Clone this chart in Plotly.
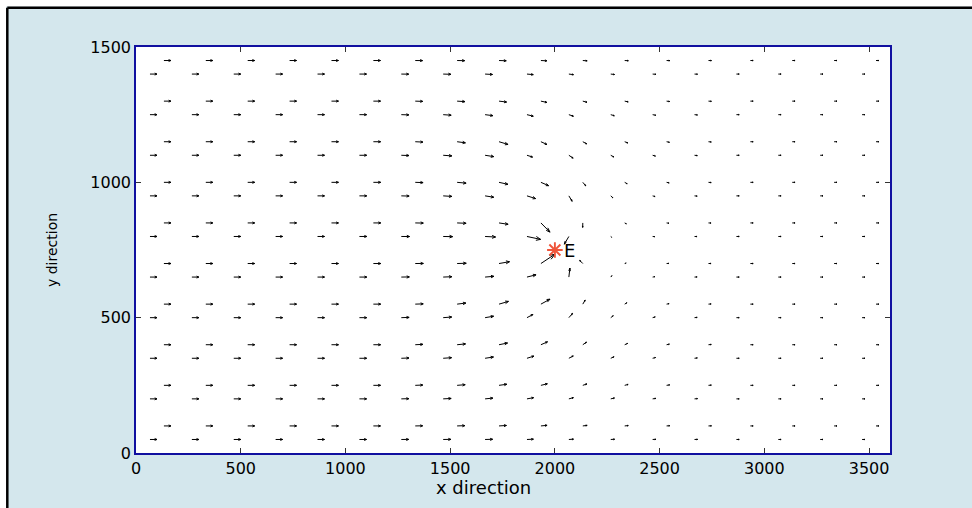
import plotly.graph_objects as go

# ---------------- data ----------------
x_a = [66.7, 266.7, 466.7, 666.7, 866.7, 1066.7, 1266.7, 1466.7, 1666.7, 1866.7,
       2066.7, 2266.7, 2466.7, 2666.7, 2866.7, 3066.7, 3266.7, 3466.7]
x_b = [133.3, 333.3, 533.3, 733.3, 933.3, 1133.3, 1333.3, 1533.3, 1733.3, 1933.3,
       2133.3, 2333.3, 2533.3, 2733.3, 2933.3, 3133.3, 3333.3, 3533.3]
row_y = [50, 100, 200, 250, 350, 400, 500, 550, 650, 700,
         800, 850, 950, 1000, 1100, 1150, 1250, 1300, 1400, 1450]
row_kind = ["a", "b"] * 10

L = [1.0] * 5
R = [0.4] * 4
Z5 = [0] * 5
Z4 = [0] * 4
u_rows = [
    L + [1.02, 1.06, 1.10, 1.08, 0.92, 0.66, 0.55, 0.47, 0.44] + R,
    L + [1.02, 1.06, 1.10, 1.06, 0.88, 0.62, 0.51, 0.45, 0.43] + R,
    L + [1.03, 1.08, 1.14, 1.12, 0.95, 0.65, 0.53, 0.46, 0.43] + R,
    L + [1.03, 1.08, 1.15, 1.12, 0.92, 0.59, 0.49, 0.44, 0.41] + R,
    L + [1.04, 1.10, 1.20, 1.20, 1.00, 0.63, 0.47, 0.42, 0.40] + R,
    L + [1.04, 1.10, 1.20, 1.22, 0.95, 0.53, 0.42, 0.40, 0.40] + R,
    L + [1.05, 1.12, 1.22, 1.22, 0.85, 0.54, 0.36, 0.37, 0.38] + R,
    L + [1.05, 1.14, 1.25, 1.35, 1.30, 0.34, 0.31, 0.36, 0.38] + R,
    L + [1.06, 1.15, 1.24, 1.26, 1.30, 0.15, 0.17, 0.31, 0.37] + R,
    L + [1.06, 1.16, 1.30, 1.50, 2.00, -0.45, 0.21, 0.33, 0.37] + R,
    L + [1.06, 1.18, 1.35, 1.50, 1.95, -0.65, 0.13, 0.30, 0.36] + R,
    L + [1.06, 1.15, 1.28, 1.30, 1.30, -0.02, 0.24, 0.34, 0.37] + R,
    L + [1.05, 1.12, 1.24, 1.24, 1.24, 0.47, 0.30, 0.35, 0.38] + R,
    L + [1.05, 1.12, 1.28, 1.28, 1.10, 0.43, 0.35, 0.37, 0.39] + R,
    L + [1.04, 1.10, 1.24, 1.24, 0.80, 0.61, 0.44, 0.40, 0.40] + R,
    L + [1.04, 1.10, 1.18, 1.29, 0.86, 0.56, 0.45, 0.41, 0.40] + R,
    L + [1.03, 1.08, 1.14, 1.12, 0.90, 0.65, 0.51, 0.45, 0.42] + R,
    L + [1.03, 1.07, 1.12, 1.08, 0.85, 0.60, 0.50, 0.44, 0.42] + R,
    L + [1.02, 1.06, 1.10, 1.06, 0.90, 0.66, 0.54, 0.47, 0.43] + R,
    L + [1.02, 1.05, 1.08, 1.03, 0.85, 0.62, 0.52, 0.46, 0.43] + R,
]
v_rows = [
    Z5 + [0, 0.006, 0.011, 0.02, 0.03, 0.031, 0.023, 0.014, 0.008] + Z4,
    Z5 + [0, 0.015, 0.03, 0.05, 0.065, 0.059, 0.04, 0.022, 0.011] + Z4,
    Z5 + [0, 0.021, 0.045, 0.085, 0.13, 0.131, 0.094, 0.052, 0.027] + Z4,
    Z5 + [0, 0.032, 0.07, 0.12, 0.17, 0.157, 0.098, 0.05, 0.024] + Z4,
    Z5 + [0, 0.03, 0.065, 0.14, 0.24, 0.261, 0.166, 0.081, 0.037] + Z4,
    Z5 + [0, 0.04, 0.09, 0.19, 0.32, 0.283, 0.146, 0.065, 0.028] + Z4,
    Z5 + [0, 0.03, 0.07, 0.16, 0.35, 0.482, 0.218, 0.084, 0.032] + Z4,
    Z5 + [0, 0.03, 0.12, 0.30, 0.55, 0.454, 0.151, 0.055, 0.021] + Z4,
    Z5 + [0, 0.015, 0.04, 0.08, 0.25, 1.00, 0.157, 0.045, 0.015] + Z4,
    Z5 + [0, 0.01, 0.03, 0.20, 1.03, 0.35, 0.054, 0.017, 0.006] + Z4,
    Z5 + [0, -0.006, -0.02, -0.06, -0.32, -0.85, -0.087, -0.024, -0.008] + Z4,
    Z5 + [0, -0.015, -0.04, -0.15, -1.02, -0.495, -0.099, -0.032, -0.011] + Z4,
    Z5 + [0, -0.02, -0.06, -0.15, -0.30, -0.602, -0.218, -0.076, -0.027] + Z4,
    Z5 + [0, -0.03, -0.09, -0.22, -0.37, -0.394, -0.158, -0.062, -0.024] + Z4,
    Z5 + [0, -0.03, -0.07, -0.15, -0.20, -0.319, -0.188, -0.085, -0.037] + Z4,
    Z5 + [0, -0.04, -0.12, -0.30, -0.30, -0.236, -0.133, -0.062, -0.028] + Z4,
    Z5 + [0, -0.025, -0.06, -0.11, -0.17, -0.169, -0.119, -0.063, -0.032] + Z4,
    Z5 + [0, -0.027, -0.055, -0.10, -0.14, -0.122, -0.079, -0.041, -0.021] + Z4,
    Z5 + [0, -0.011, -0.025, -0.045, -0.06, -0.063, -0.047, -0.027, -0.015] + Z4,
    Z5 + [0, -0.008, -0.015, -0.025, -0.03, -0.029, -0.02, -0.011, -0.006] + Z4,
]

well_x = [2000]
well_y = [750]
well_label = ["E"]

x_ticks = [0, 500, 1000, 1500, 2000, 2500, 3000, 3500]
y_ticks = [0, 500, 1000, 1500]

# ---------------- figure ----------------
SCALE = 33.4      # quiver scale (data units per velocity unit)
ALPHA, BETA = 0.33, 0.33

qx, qy = [], []
for yv, kind, urow, vrow in zip(row_y, row_kind, u_rows, v_rows):
    xs = x_a if kind == "a" else x_b
    for xv, u, v in zip(xs, urow, vrow):
        uu, vv = u * SCALE, v * SCALE
        ex, ey = xv + uu, yv + vv
        qx += [xv, ex, None]
        qy += [yv, ey, None]
        qx += [ex - ALPHA * (uu + BETA * vv), ex, ex - ALPHA * (uu - BETA * vv), None]
        qy += [ey - ALPHA * (vv - BETA * uu), ey, ey - ALPHA * (vv + BETA * uu), None]

fig = go.Figure()
fig.add_trace(go.Scatter(x=qx, y=qy, mode="lines",
                         line=dict(color="black", width=1), hoverinfo="skip",
                         showlegend=False))
fig.add_trace(go.Scatter(x=well_x, y=well_y, mode="markers",
                         marker=dict(symbol="asterisk-open", size=13,
                                     line=dict(color="#ff0000", width=1.9)),
                         showlegend=False))
fig.add_annotation(x=well_x[0] + 35, y=well_y[0], text=well_label[0],
                   showarrow=False, xanchor="left", yanchor="middle",
                   font=dict(family="DejaVu Sans", size=18, color="black"))

axis_common = dict(showline=True, linecolor="#1010a0", linewidth=1.5, mirror="ticks",
                   ticks="inside", ticklen=5, tickcolor="#333333", showgrid=False,
                   zeroline=False, tickfont=dict(family="DejaVu Sans", size=16, color="black"))
fig.update_xaxes(range=[0, 3600], tickvals=x_ticks, **axis_common)
fig.update_yaxes(range=[0, 1500], tickvals=y_ticks, **axis_common)

W, H = 972, 508
ML, MT, PW, PH = 136, 47, 754, 406


def px(xp):
    return (xp - ML) / PW


def py(yp):
    return (MT + PH - yp) / PH


fig.add_annotation(xref="paper", yref="paper", x=px(483), y=py(487),
                   text="x direction", showarrow=False, xanchor="center", yanchor="middle",
                   font=dict(family="DejaVu Sans", size=18, color="black"))
fig.add_annotation(xref="paper", yref="paper", x=px(52), y=py(250),
                   text="y direction", showarrow=False, textangle=-90,
                   xanchor="center", yanchor="middle",
                   font=dict(family="DejaVu Sans", size=14, color="black"))

# white surround outside the outer black frame
fig.add_shape(type="rect", xref="paper", yref="paper", x0=px(-2), x1=px(6),
              y0=py(-2), y1=py(H + 2), fillcolor="white", line_width=0, layer="above")
fig.add_shape(type="rect", xref="paper", yref="paper", x0=px(-2), x1=px(W + 2),
              y0=py(-2), y1=py(6.5), fillcolor="white", line_width=0, layer="above")
# outer black frame (top and left visible)
fig.add_shape(type="line", xref="paper", yref="paper", x0=px(7.3), x1=px(W + 5),
              y0=py(7.8), y1=py(7.8), line=dict(color="black", width=2.5))
fig.add_shape(type="line", xref="paper", yref="paper", x0=px(7.3), x1=px(7.3),
              y0=py(7.8), y1=py(H + 5), line=dict(color="black", width=2.5))

fig.update_layout(width=W, height=H,
                  margin=dict(l=ML, r=W - ML - PW, t=MT, b=H - MT - PH),
                  paper_bgcolor="#d4e7ed", plot_bgcolor="white")

fig.write_html("out.html", config={"displayModeBar": False},
               post_script="document.body.style.margin='0';"
                           "document.body.style.overflow='hidden';")
